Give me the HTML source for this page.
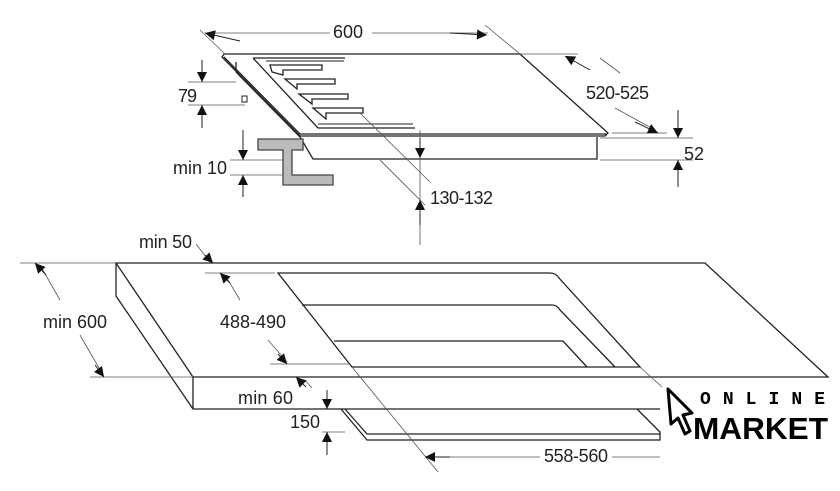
<!DOCTYPE html>
<html><head><meta charset="utf-8"><style>
html,body{margin:0;padding:0;background:#fff;width:840px;height:491px;overflow:hidden}
text{font-family:"Liberation Sans Narrow","Liberation Sans",sans-serif;font-size:18px;fill:#222}
</style></head><body>
<svg width="840" height="491" viewBox="0 0 840 491" xmlns="http://www.w3.org/2000/svg">
<defs>
<marker id="a" viewBox="0 0 10 10" refX="10" refY="5" markerWidth="16" markerHeight="10" markerUnits="userSpaceOnUse" orient="auto"><path d="M0,0L10,5L0,10z" fill="#111"/></marker>
</defs>
<g fill="none" stroke="#222" stroke-width="1.3">
<path d="M224,54 L520,54 L608,133 L605,136 L300,136 L222,57 Z" fill="#fff"/>
<path d="M224,57 L300,134 L606,134"/>
<path d="M300,137 L313,159 L597,159 L597,137"/>
<path d="M236,62 L236,72 M236,72 L300,137"/>
<rect x="242" y="96" width="5" height="6" stroke-width="1"/>
<path d="M253,58 L345,58 M253,58 L318,128 L415,128"/>
<path d="M266,61 L344,61" stroke-width="1"/>
<path d="M318,124 L413,124" stroke-width="1"/>
<path d="M270,65 L322,65 L322,70 L283,70 L283,75 L272,72 Z M270,65 L272,72"/>
<path d="M285,79 L335,79 L335,84 L297,84 L297,89 Z"/>
<path d="M299,94 L348,94 L348,99 L312,99 L312,104 Z"/>
<path d="M313,108 L363,108 L363,113 L326,113 L326,119 Z"/>
<path d="M116,263 L705,263 L828,377 L193,377 Z"/>
<path d="M116,263 L116,296 L193,409 L660,409 M193,377 L193,409"/>
<path d="M278,273 L550,273 Q556,273 559,278 L640,367 L352,367 Z"/>
<path d="M302,305 L552,305 Q557,305 560,310 L615,367"/>
<path d="M334,341 L563,341 L587,367"/>
<path d="M341,409 L367,440 L660,440 L660,432 L637,409 M345,409 L367,434 L660,434"/>
</g>
<path d="M258,139 L303,139 L303,150 L292,150 L292,175 L333,175 L333,185 L283,185 L283,150 L258,150 Z" fill="#bbb" stroke="#444" stroke-width="1.3"/>
<g stroke="#555" stroke-width="0.8" fill="none">
<line x1="200" y1="30" x2="225" y2="54"/><line x1="485" y1="25" x2="520" y2="54"/>
<line x1="208" y1="33" x2="330" y2="33"/><line x1="372" y1="33" x2="488" y2="33"/>
<line x1="520" y1="54" x2="578" y2="54"/>
<line x1="600" y1="58" x2="620" y2="73"/><line x1="615" y1="108" x2="655" y2="130"/>
<line x1="612" y1="133" x2="667" y2="133"/>
<line x1="600" y1="138" x2="693" y2="138"/><line x1="600" y1="160" x2="693" y2="160"/>
<line x1="188" y1="82" x2="236" y2="82"/><line x1="188" y1="105" x2="245" y2="105"/>
<line x1="230" y1="160" x2="283" y2="160"/><line x1="230" y1="175" x2="283" y2="175"/>
<line x1="420" y1="130" x2="420" y2="245"/>
<line x1="360" y1="113" x2="430" y2="182"/><line x1="380" y1="160" x2="425" y2="205"/>
<line x1="20" y1="263" x2="116" y2="263"/><line x1="90" y1="377" x2="193" y2="377"/>
<line x1="205" y1="273" x2="275" y2="273"/><line x1="270" y1="364" x2="350" y2="364"/>
<line x1="40" y1="265" x2="60" y2="300"/><line x1="80" y1="335" x2="103" y2="375"/>
<line x1="225" y1="275" x2="240" y2="300"/><line x1="268" y1="340" x2="287" y2="362"/>
<line x1="352" y1="367" x2="438" y2="472"/><line x1="640" y1="367" x2="662" y2="387"/>
<line x1="425" y1="457" x2="540" y2="457"/><line x1="612" y1="457" x2="660" y2="457"/>
<line x1="322" y1="432" x2="345" y2="432"/>
<line x1="196" y1="244" x2="210" y2="262"/>
<line x1="305" y1="380" x2="312" y2="388"/>
</g>
<g stroke="#222" stroke-width="1" marker-end="url(#a)" fill="none">
<line x1="240" y1="41" x2="205" y2="33"/><line x1="450" y1="33" x2="487" y2="35"/>
<line x1="590" y1="70" x2="565" y2="56"/><line x1="635" y1="122" x2="658" y2="133"/>
<line x1="678" y1="110" x2="678" y2="138"/><line x1="678" y1="187" x2="678" y2="160"/>
<line x1="202" y1="60" x2="202" y2="82"/><line x1="202" y1="128" x2="202" y2="105"/>
<line x1="243" y1="130" x2="243" y2="160"/><line x1="243" y1="197" x2="243" y2="175"/>
<line x1="420" y1="138" x2="420" y2="158"/><line x1="420" y1="225" x2="420" y2="200"/>
<line x1="46" y1="275" x2="35" y2="263"/><line x1="95" y1="365" x2="104" y2="377"/>
<line x1="205" y1="255" x2="213" y2="263"/>
<line x1="230" y1="283" x2="220" y2="273"/><line x1="278" y1="354" x2="287" y2="364"/>
<line x1="306" y1="387" x2="296" y2="377"/>
<line x1="327" y1="390" x2="327" y2="409"/><line x1="327" y1="455" x2="327" y2="432"/>
<line x1="450" y1="457" x2="425" y2="457"/>
</g>
<text x="333" y="38" textLength="30">600</text>
<text x="178" y="102" textLength="19">79</text>
<text x="173" y="174" textLength="54">min 10</text>
<text x="430" y="204" textLength="63">130-132</text>
<text x="586" y="99" textLength="63">520-525</text>
<text x="684" y="160" textLength="20">52</text>
<text x="139" y="248" textLength="53">min 50</text>
<text x="43" y="328" textLength="64">min 600</text>
<text x="220" y="328" textLength="66">488-490</text>
<text x="238" y="404" textLength="55">min 60</text>
<text x="290" y="428" textLength="30">150</text>
<text x="544" y="462" textLength="64">558-560</text>
<path d="M668,389 L692,413 L683,415 L690,431 L685,434 L678,418 L671,424 Z" fill="#fff" stroke="#000" stroke-width="3" stroke-linejoin="round"/>
<text x="700" y="404" textLength="125" lengthAdjust="spacing" style="font-family:'Liberation Mono',monospace;font-size:18px;font-weight:bold;fill:#000">ONLINE</text>
<text x="693" y="439" textLength="135" lengthAdjust="spacingAndGlyphs" style="font-family:'Liberation Sans',sans-serif;font-size:31px;font-weight:bold;fill:#000">MARKET</text>
</svg>
</body></html>
